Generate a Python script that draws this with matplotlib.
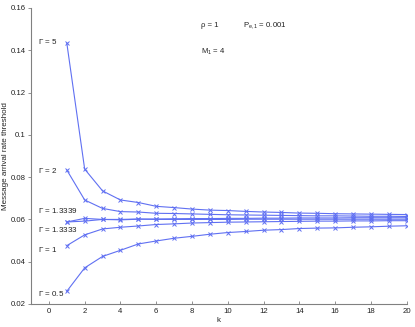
import numpy as np
import matplotlib
matplotlib.use("Agg")
import matplotlib.pyplot as plt

plt.rcParams['font.family'] = ['Liberation Sans', 'DejaVu Sans']
plt.rcParams['mathtext.fontset'] = 'stix'
plt.rcParams['mathtext.default'] = 'regular'

k = np.arange(1, 21)

gamma_5 = [0.1435, 0.0838, 0.0735, 0.0692, 0.0680, 0.0662, 0.0656, 0.0649, 0.0644, 0.0642,
           0.0638, 0.0635, 0.0633, 0.0630, 0.0629, 0.0627, 0.0626, 0.0625, 0.0624, 0.0623]
gamma_2 = [0.0834, 0.0692, 0.0652, 0.0637, 0.0635, 0.0629, 0.0628, 0.0626, 0.0624, 0.0622,
           0.0621, 0.0620, 0.0619, 0.0618, 0.0617, 0.0617, 0.0616, 0.0615, 0.0615, 0.0614]
gamma_13339 = [0.0588, 0.0605, 0.0600, 0.0598, 0.0601, 0.0602, 0.0603, 0.0604, 0.0604, 0.0605,
               0.0605, 0.0606, 0.0606, 0.0607, 0.0607, 0.0607, 0.0608, 0.0608, 0.0608, 0.0608]
gamma_13333 = [0.0588, 0.0592, 0.0600, 0.0600, 0.0602, 0.0600, 0.0600, 0.0600, 0.0600, 0.0600,
               0.0601, 0.0601, 0.0601, 0.0601, 0.0601, 0.0601, 0.0601, 0.0601, 0.0601, 0.0601]
gamma_1 = [0.0476, 0.0527, 0.0555, 0.0563, 0.0569, 0.0576, 0.0579, 0.0583, 0.0585, 0.0587,
           0.0588, 0.0589, 0.0590, 0.0591, 0.0592, 0.0592, 0.0593, 0.0593, 0.0594, 0.0594]
gamma_05 = [0.0260, 0.0371, 0.0425, 0.0454, 0.0484, 0.0498, 0.0511, 0.0520, 0.0530, 0.0538,
            0.0543, 0.0549, 0.0552, 0.0557, 0.0559, 0.0560, 0.0563, 0.0565, 0.0568, 0.0570]

series = [gamma_5, gamma_2, gamma_13339, gamma_13333, gamma_1, gamma_05]
labels = ['5', '2', '1.3339', '1.3333', '1', '0.5']
label_y = [0.1443, 0.0833, 0.0640, 0.0552, 0.0457, 0.0249]

blue = '#6070f2'
grey = '#808080'
txt = '#222222'

fig = plt.figure(figsize=(4.15, 3.27), dpi=100)
ax = fig.add_axes([31 / 415, 23 / 327, 375.7 / 415, 296 / 327])

for s in series:
    ax.plot(k, s, color=blue, lw=0.8, marker='x', ms=3, mew=0.7)

for lab, yy in zip(labels, label_y):
    ax.text(-0.62, yy, r'$\Gamma$ = ' + lab, fontsize=5.8, color=txt, ha='left', va='center')

ax.text(8.5, 0.1515, 'ρ = 1', fontsize=5.6, color=txt, ha='left', va='center')
ax.text(10.85, 0.1515, r'P$_{e,1}$ = 0.001', fontsize=5.6, color=txt, ha='left', va='center')
ax.text(8.5, 0.1392, r'M$_1$ = 4', fontsize=5.6, color=txt, ha='left', va='center')

ax.set_xlim(-1, 20)
ax.set_ylim(0.02, 0.16)
ax.set_xticks(np.arange(0, 21, 2))
ax.set_yticks([0.02, 0.04, 0.06, 0.08, 0.1, 0.12, 0.14, 0.16])
ax.set_yticklabels(['0.02', '0.04', '0.06', '0.08', '0.1', '0.12', '0.14', '0.16'])

for side in ['top', 'right']:
    ax.spines[side].set_visible(False)
for side in ['left', 'bottom']:
    ax.spines[side].set_color(grey)
    ax.spines[side].set_linewidth(0.8)

ax.tick_params(axis='y', direction='out', length=2.5, width=0.6, color=grey,
               labelsize=5.6, labelcolor=txt, pad=1.5)
ax.tick_params(axis='x', direction='in', length=2.5, width=0.6, color=grey,
               labelsize=5.6, labelcolor=txt, pad=3)

ax.set_xlabel('k', fontsize=5.8, color=txt, labelpad=1)
ax.set_ylabel('Message arrival rate threshold', fontsize=5.8, color=txt, labelpad=1)

fig.savefig('out.png', dpi=100)
